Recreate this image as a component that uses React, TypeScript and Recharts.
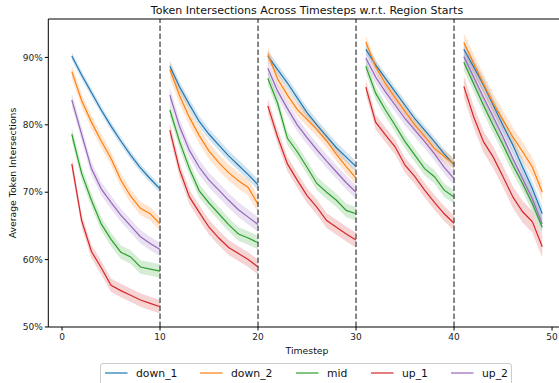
import React from "react";
import {
  ComposedChart,
  Line,
  Area,
  XAxis,
  YAxis,
  ReferenceLine,
} from "recharts";

const timesteps = [
  1, 2, 3, 4, 5, 6, 7, 8, 9, 10,
  11, 12, 13, 14, 15, 16, 17, 18, 19, 20,
  21, 22, 23, 24, 25, 26, 27, 28, 29, 30,
  31, 32, 33, 34, 35, 36, 37, 38, 39, 40,
  41, 42, 43, 44, 45, 46, 47, 48, 49,
];

const regionStarts = [10, 20, 30, 40];

const seriesNames = ["down_1", "down_2", "mid", "up_1", "up_2"];
const seriesColors = ["#1f77b4", "#ff7f0e", "#2ca02c", "#d62728", "#9467bd"];

const down_1 = [
  90.2, 87.4, 84.8, 82.2, 79.8, 77.6, 75.5, 73.6, 72.0, 70.5,
  88.7, 85.6, 83.0, 80.5, 78.6, 77.0, 75.4, 74.0, 72.6, 71.1,
  90.2, 88.2, 86.2, 84.0, 81.8, 80.0, 78.3, 76.6, 75.2, 73.8,
  91.2, 88.9, 86.9, 84.9, 82.9, 80.9, 79.2, 77.5, 75.7, 74.1,
  91.2, 88.6, 85.9, 82.9, 79.9, 77.0, 73.7, 70.5, 66.8,
];
const down_2 = [
  87.9, 83.6, 80.4, 77.6, 75.0, 71.8, 69.4, 67.6, 66.8, 65.3,
  88.2, 84.3, 81.1, 78.4, 76.1, 74.4, 72.9, 71.7, 70.7, 68.2,
  90.5, 86.8, 84.4, 82.3, 80.8, 79.3, 77.6, 75.6, 73.8, 72.1,
  92.3, 88.6, 86.1, 84.0, 82.0, 80.0, 78.3, 76.5, 75.3, 74.2,
  92.2, 89.1, 86.1, 83.2, 80.7, 78.2, 76.0, 73.7, 70.0,
];
const mid = [
  78.6, 72.8, 68.8, 65.3, 63.0, 61.1, 60.4, 58.9, 58.6, 58.3,
  82.2, 77.5, 73.5, 70.2, 68.4, 66.8, 65.2, 63.8, 63.2, 62.5,
  86.9, 83.2, 78.0, 76.0, 73.7, 71.3, 70.0, 68.8, 67.3, 66.8,
  88.7, 84.7, 82.2, 79.9, 77.5, 75.5, 73.5, 72.3, 70.3, 69.3,
  89.3, 86.1, 82.9, 79.9, 77.0, 74.0, 71.3, 68.3, 64.8,
];
const up_1 = [
  74.2, 65.8, 61.2, 58.8, 56.2, 55.4, 54.7, 54.0, 53.5, 53.0,
  79.2, 73.3, 69.3, 67.0, 64.8, 63.2, 61.8, 60.9, 60.0, 58.9,
  82.8, 78.2, 74.2, 71.8, 69.5, 67.8, 65.8, 64.8, 63.8, 62.9,
  85.6, 80.4, 78.5, 76.7, 74.0, 72.3, 70.3, 68.5, 66.8, 65.4,
  85.7, 81.2, 77.5, 75.2, 72.3, 69.3, 67.1, 65.6, 61.9,
];
const up_2 = [
  83.7, 78.6, 73.5, 70.5, 68.5, 66.6, 65.0, 63.4, 62.4, 61.5,
  84.4, 79.7, 76.2, 73.7, 71.8, 70.3, 68.8, 67.4, 66.3, 65.2,
  88.4, 85.0, 82.4, 80.0, 78.1, 76.3, 74.6, 73.0, 71.4, 70.0,
  89.9, 87.1, 84.9, 82.9, 80.9, 79.2, 77.5, 75.7, 73.7, 72.0,
  90.1, 87.1, 84.1, 81.2, 78.2, 75.0, 72.0, 69.0, 65.3,
];

// half-width of the shaded confidence band, one value per region
const down_1_ci = [0.6, 0.8, 0.8, 0.7, 1.1];
const down_2_ci = [1.0, 1.2, 1.0, 0.9, 1.4];
const mid_ci = [1.0, 1.0, 1.0, 1.0, 1.2];
const up_1_ci = [1.0, 1.1, 1.1, 1.1, 1.6];
const up_2_ci = [1.0, 1.1, 1.0, 1.0, 1.2];

const yTicks = [50, 60, 70, 80, 90];
const xTicks = [0, 10, 20, 30, 40, 50];

const seriesValues: Record<string, number[]> = { down_1, down_2, mid, up_1, up_2 };
const seriesCi: Record<string, number[]> = {
  down_1: down_1_ci,
  down_2: down_2_ci,
  mid: mid_ci,
  up_1: up_1_ci,
  up_2: up_2_ci,
};

const rows: any[] = [];
timesteps.forEach((t, i) => {
  const seg = Math.floor((t - 1) / 10);
  const row: any = { t };
  seriesNames.forEach((n) => {
    const v = seriesValues[n][i];
    const c = seriesCi[n][seg];
    row[n] = v;
    row[n + "_band"] = [v - c, v + c];
  });
  rows.push(row);
  if (regionStarts.includes(t)) {
    const gap: any = { t: t + 0.5 };
    seriesNames.forEach((n) => {
      gap[n] = null;
      gap[n + "_band"] = null;
    });
    rows.push(gap);
  }
});

const FONT = "'DejaVu Sans', sans-serif";

const legendX = [105, 200, 296, 371, 451];

export default function App() {
  return (
    <div style={{ position: "absolute", left: 0, top: 0, width: 559, height: 383, overflow: "hidden", background: "#fff" }}>
      <ComposedChart
        width={559}
        height={383}
        data={rows}
        margin={{ top: 19, right: 0, bottom: 36, left: 8.3 }}
      >
        <XAxis
          dataKey="t"
          type="number"
          domain={[-1.4, 50.71]}
          ticks={xTicks}
          allowDataOverflow
          height={20}
          tickSize={3.5}
          tickMargin={3}
          tick={{ fontSize: 9, fill: "#222", fontFamily: FONT }}
          axisLine={{ stroke: "#000", strokeWidth: 1 }}
          tickLine={{ stroke: "#000" }}
        />
        <YAxis
          type="number"
          domain={[50, 95.7]}
          ticks={yTicks}
          allowDataOverflow
          width={40}
          tickSize={3.5}
          tickMargin={2}
          tickFormatter={(v: number) => `${v}%`}
          tick={{ fontSize: 9, fill: "#222", fontFamily: FONT }}
          axisLine={{ stroke: "#000", strokeWidth: 1 }}
          tickLine={{ stroke: "#000" }}
        />
        {seriesNames.map((n, k) => (
          <Area
            key={n + "_band"}
            dataKey={n + "_band"}
            stroke="none"
            fill={seriesColors[k]}
            fillOpacity={0.2}
            isAnimationActive={false}
            connectNulls={false}
            activeDot={false}
            dot={false}
          />
        ))}
        {seriesNames.map((n, k) => (
          <Line
            key={n}
            dataKey={n}
            stroke={seriesColors[k]}
            strokeWidth={1.2}
            dot={false}
            activeDot={false}
            connectNulls={false}
            isAnimationActive={false}
          />
        ))}
        {regionStarts.map((x) => (
          <ReferenceLine
            key={x}
            x={x}
            stroke="#555"
            strokeWidth={1.4}
            strokeDasharray="5.5 2.5"
          />
        ))}
        <ReferenceLine y={95.7} stroke="#000" strokeWidth={1} ifOverflow="extendDomain" />
      </ComposedChart>
      <svg
        width={559}
        height={383}
        style={{ position: "absolute", left: 0, top: 0, pointerEvents: "none" }}
      >
        <text x={307} y={14} textAnchor="middle" fontSize={11} fontFamily={FONT} fill="#111">
          Token Intersections Across Timesteps w.r.t. Region Starts
        </text>
        <text x={307} y={354} textAnchor="middle" fontSize={9.3} fontFamily={FONT} fill="#111">
          Timestep
        </text>
        <text
          x={15.7}
          y={173}
          textAnchor="middle"
          fontSize={9.3}
          fontFamily={FONT}
          fill="#111"
          transform="rotate(-90, 15.7, 173)"
        >
          Average Token Intersections
        </text>
        <rect x={100.5} y={363.5} width={411} height={30} rx={2.5} fill="#fff" fillOpacity={0.8} stroke="#ccc" strokeWidth={1} />
        {seriesNames.map((n, k) => (
          <g key={n}>
            <line x1={legendX[k]} x2={legendX[k] + 22.5} y1={373} y2={373} stroke={seriesColors[k]} strokeWidth={1.2} />
            <text x={legendX[k] + 31} y={376.8} fontSize={10.8} fontFamily={FONT} fill="#111">
              {n}
            </text>
          </g>
        ))}
      </svg>
    </div>
  );
}
